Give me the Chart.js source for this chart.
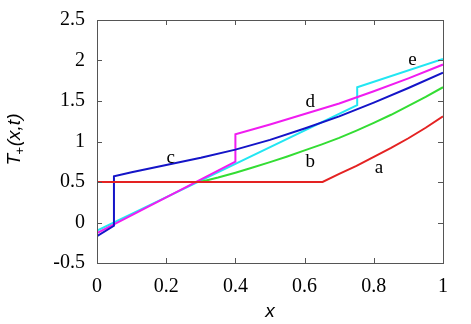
<!DOCTYPE html>
<html lang="en">
<head>
    <meta charset="UTF-8">
    <title>T+(x,t) profiles</title>
    <script src="https://cdn.jsdelivr.net/npm/chart.js"></script>
    <style>
        body {
            margin: 0;
            background: #fff;
        }
        #wrap {
            width: 471px;
            height: 324px;
        }
    </style>
</head>
<body>
    <div id="wrap"><canvas id="plot" width="471" height="324"></canvas></div>

    <script>
        // curve a (red)
        const xA = [0, 0.652, 0.70, 0.75, 0.80, 0.85, 0.90, 0.95, 1.0];
        const yA = [0.5, 0.5, 0.60, 0.70, 0.81, 0.92, 1.04, 1.17, 1.31];
        // curve b (green)
        const xB = [0, 0.298, 0.35, 0.40, 0.45, 0.50, 0.55, 0.60, 0.65, 0.70, 0.75, 0.80, 0.85, 0.90, 0.95, 1.0];
        const yB = [0.5, 0.5, 0.555, 0.615, 0.68, 0.745, 0.815, 0.89, 0.965, 1.045, 1.135, 1.23, 1.33, 1.44, 1.55, 1.67];
        // curve c (blue) - jump near x = 0.05
        const xC = [0, 0.049, 0.049, 0.1, 0.2, 0.3, 0.4, 0.5, 0.6, 0.7, 0.8, 0.9, 1.0];
        const yC = [-0.17, -0.04, 0.57, 0.62, 0.71, 0.80, 0.90, 1.02, 1.16, 1.31, 1.48, 1.66, 1.85];
        // curve d (magenta) - jump at x = 0.4
        const xD = [0, 0.40, 0.40, 0.5, 0.6, 0.7, 0.8, 0.9, 1.0];
        const yD = [-0.13, 0.75, 1.09, 1.21, 1.34, 1.47, 1.62, 1.78, 1.95];
        // curve e (cyan) - jump at x = 0.75
        const xE = [0, 0.752, 0.752, 1.0];
        const yE = [-0.10, 1.45, 1.67, 2.02];

        // curve labels and where they sit (data units)
        const labelText = ['a', 'b', 'c', 'd', 'e'];
        const labelX = [0.815, 0.616, 0.213, 0.616, 0.912];
        const labelY = [0.677, 0.747, 0.80, 1.49, 2.006];

        const xTicks = [0, 0.2, 0.4, 0.6, 0.8, 1];
        const yTicks = [-0.5, 0, 0.5, 1, 1.5, 2, 2.5];

        const colors = ['#e42222', '#33dd33', '#1414c8', '#f01cf0', '#22e6f2'];

        const serifFont = '20px "Liberation Serif"';

        function pts(xs, ys) {
            return xs.map((x, i) => ({ x: x, y: ys[i] }));
        }

        const series = [[xA, yA], [xB, yB], [xC, yC], [xD, yD], [xE, yE]];

        const frame = {
            id: 'frame',
            afterDraw(chart) {
                const ctx = chart.ctx;
                const a = chart.chartArea;
                const sx = chart.scales.x, sy = chart.scales.y;
                ctx.save();
                ctx.strokeStyle = '#555';
                ctx.lineWidth = 1;
                ctx.strokeRect(a.left + 0.5, a.top + 0.5, a.right - a.left, a.bottom - a.top);
                ctx.beginPath();
                yTicks.forEach(v => {
                    const p = Math.round(sy.getPixelForValue(v)) + 0.5;
                    ctx.moveTo(a.left, p); ctx.lineTo(a.left + 5, p);
                    ctx.moveTo(a.right, p); ctx.lineTo(a.right - 5, p);
                });
                xTicks.forEach(v => {
                    const p = Math.round(sx.getPixelForValue(v)) + 0.5;
                    ctx.moveTo(p, a.bottom); ctx.lineTo(p, a.bottom - 5);
                    ctx.moveTo(p, a.top); ctx.lineTo(p, a.top + 5);
                });
                ctx.stroke();

                // tick labels
                ctx.fillStyle = '#000';
                ctx.font = serifFont;
                ctx.textAlign = 'right';
                ctx.textBaseline = 'middle';
                yTicks.forEach(v => {
                    ctx.fillText(String(v), a.left - 12, sy.getPixelForValue(v));
                });
                ctx.textAlign = 'center';
                ctx.textBaseline = 'top';
                xTicks.forEach(v => {
                    ctx.fillText(String(v), sx.getPixelForValue(v), a.bottom + 14);
                });

                // curve letters
                ctx.font = '19px "Liberation Serif"';
                ctx.textBaseline = 'middle';
                labelText.forEach((t, i) => {
                    ctx.fillText(t, sx.getPixelForValue(labelX[i]), sy.getPixelForValue(labelY[i]));
                });

                // x axis title
                ctx.font = 'italic 19px "Liberation Sans"';
                ctx.fillText('x', (a.left + a.right) / 2, 312);

                // y axis title with subscript
                ctx.translate(15, (a.top + a.bottom) / 2 - 2);
                ctx.rotate(-Math.PI / 2);
                ctx.textAlign = 'left';
                ctx.textBaseline = 'middle';
                const big = 'italic 19px "Liberation Sans"';
                const small = 'italic 13px "Liberation Sans"';
                ctx.font = big;
                const wT = ctx.measureText('T').width;
                ctx.font = small;
                const wP = ctx.measureText('+').width;
                ctx.font = big;
                const wR = ctx.measureText('(x,t)').width;
                let x0 = -(wT + wP + wR) / 2;
                ctx.fillText('T', x0, 0);
                ctx.font = small;
                ctx.fillText('+', x0 + wT - 1, 5);
                ctx.font = big;
                ctx.fillText('(x,t)', x0 + wT + wP, 0);
                ctx.restore();
            }
        };

        new Chart(document.getElementById('plot'), {
            type: 'scatter',
            data: {
                datasets: series.map((s, i) => ({
                    label: labelText[i],
                    data: pts(s[0], s[1]),
                    showLine: true,
                    borderColor: colors[i],
                    borderWidth: 2,
                    pointRadius: 0,
                    tension: 0,
                    fill: false
                }))
            },
            options: {
                responsive: false,
                animation: false,
                layout: { padding: { top: 20, right: 28, left: 0, bottom: 0 } },
                plugins: {
                    legend: { display: false },
                    tooltip: { enabled: false }
                },
                scales: {
                    x: {
                        type: 'linear',
                        min: 0,
                        max: 1,
                        afterBuildTicks: s => { s.ticks = xTicks.map(v => ({ value: v })); },
                        afterFit: s => { s.height = 61; },
                        grid: { display: false },
                        border: { display: false },
                        ticks: { display: false }
                    },
                    y: {
                        min: -0.5,
                        max: 2.5,
                        afterBuildTicks: s => { s.ticks = yTicks.map(v => ({ value: v })); },
                        afterFit: s => { s.width = 97; },
                        grid: { display: false },
                        border: { display: false },
                        ticks: { display: false }
                    }
                }
            },
            plugins: [frame]
        });
    </script>
</body>
</html>
